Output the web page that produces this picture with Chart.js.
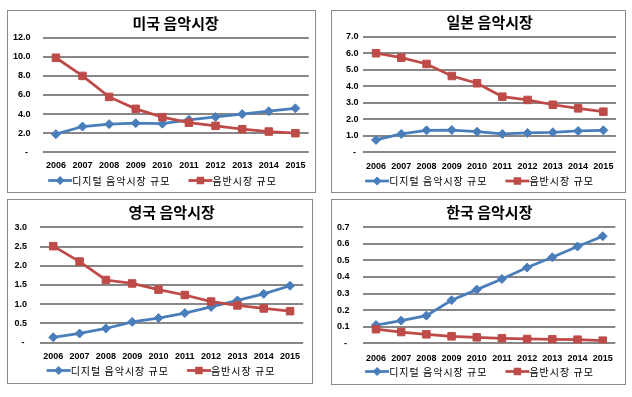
<!DOCTYPE html>
<html>
<head>
<meta charset="utf-8">
<script src="https://cdn.jsdelivr.net/npm/chart.js@4.4.1/dist/chart.umd.min.js"></script>
<style>
  html, body { margin: 0; padding: 0; background: #fff; }
  body { width: 632px; height: 397px; position: relative; overflow: hidden; }
  .caixa { position: absolute; border: 1px solid #8a8a8a; box-sizing: border-box; background: #fff; }
  .caixa canvas { display: block; }
</style>
</head>
<body>
<div class="caixa" style="left:7px;top:10px;width:309px;height:183px"><canvas id="g1" width="307" height="181"></canvas></div>
<div class="caixa" style="left:331px;top:10px;width:295px;height:183px"><canvas id="g2" width="293" height="181"></canvas></div>
<div class="caixa" style="left:7px;top:199px;width:306px;height:185px"><canvas id="g3" width="304" height="183"></canvas></div>
<div class="caixa" style="left:331px;top:199px;width:295px;height:186px"><canvas id="g4" width="293" height="184"></canvas></div>
<script>
var anos = ['2006', '2007', '2008', '2009', '2010', '2011', '2012', '2013', '2014', '2015'];
var series = ['디지털 음악시장 규모', '음반시장 규모'];
var titulos = ['미국 음악시장', '일본 음악시장', '영국 음악시장', '한국 음악시장'];

var usaDigital = [1.9, 2.7, 2.95, 3.05, 3.0, 3.4, 3.7, 4.0, 4.3, 4.6];
var usaAlbum = [9.9, 8.0, 5.8, 4.55, 3.68, 3.1, 2.77, 2.42, 2.17, 2.0];
var japanDigital = [0.75, 1.11, 1.33, 1.35, 1.25, 1.11, 1.17, 1.21, 1.29, 1.33];
var japanAlbum = [6.0, 5.73, 5.35, 4.62, 4.18, 3.37, 3.17, 2.88, 2.66, 2.46];
var ukDigital = [0.14, 0.24, 0.37, 0.54, 0.64, 0.77, 0.93, 1.10, 1.27, 1.48];
var ukAlbum = [2.51, 2.11, 1.63, 1.54, 1.38, 1.24, 1.07, 0.97, 0.89, 0.82];
var koreaDigital = [0.11, 0.137, 0.167, 0.26, 0.324, 0.388, 0.457, 0.519, 0.584, 0.646];
var koreaAlbum = [0.085, 0.068, 0.054, 0.042, 0.036, 0.030, 0.026, 0.024, 0.022, 0.016];

var azul = '#4a7ebb';
var vermelho = '#be4b48';
var fonteNum = 'Liberation Sans';
var fonteKr = 'Noto Sans CJK KR';

// marcador do jeito do excel (losango / quadrado)
function marcador(ctx, estilo, x, y, r) {
  ctx.beginPath();
  if (estilo === 'rectRot') {
    ctx.moveTo(x, y - r);
    ctx.lineTo(x + r, y);
    ctx.lineTo(x, y + r);
    ctx.lineTo(x - r, y);
  } else {
    var s = r * Math.SQRT1_2;
    ctx.rect(x - s, y - s, 2 * s, 2 * s);
  }
  ctx.closePath();
  ctx.fill();
}

// legenda com linha + marcador, centrada na caixa
var legendaExcel = {
  id: 'legendaExcel',
  afterDraw: function (chart, args, opts) {
    var ctx = chart.ctx;
    var sets = chart.data.datasets;
    ctx.save();
    ctx.font = '10px "' + fonteKr + '"';
    ctx.letterSpacing = '1px';
    var larg = sets.map(function (ds) { return 24 + ctx.measureText(ds.label).width; });
    var total = larg.reduce(function (a, b) { return a + b; }, 0) + opts.gap * (sets.length - 1);
    var x = (chart.width - total) / 2 + opts.dx;
    var y = opts.y;
    sets.forEach(function (ds, i) {
      ctx.strokeStyle = ds.borderColor;
      ctx.fillStyle = ds.backgroundColor;
      ctx.lineWidth = ds.borderWidth;
      ctx.beginPath();
      ctx.moveTo(x, y);
      ctx.lineTo(x + 24, y);
      ctx.stroke();
      marcador(ctx, ds.pointStyle, x + 12, y, ds.pointRadius);
      ctx.fillStyle = '#000';
      ctx.textBaseline = 'middle';
      ctx.textAlign = 'left';
      ctx.fillText(ds.label, x + 24, y + 0.5);
      x += larg[i] + opts.gap;
    });
    ctx.restore();
  }
};

function graficoMercado(id, titulo, digital, album, cfg) {
  return new Chart(document.getElementById(id), {
    type: 'line',
    data: {
      labels: anos,
      datasets: [{
        label: series[0],
        data: digital,
        borderColor: azul,
        backgroundColor: azul,
        borderWidth: 2.75,
        pointStyle: 'rectRot',
        pointRadius: 4.5,
        pointBorderWidth: 1,
        tension: 0,
        order: 1
      }, {
        label: series[1],
        data: album,
        borderColor: vermelho,
        backgroundColor: vermelho,
        borderWidth: 2.75,
        pointStyle: 'rect',
        pointRadius: 5.3,
        pointBorderWidth: 1,
        tension: 0,
        order: 0
      }]
    },
    options: {
      responsive: false,
      animation: false,
      layout: {
        padding: { left: 0, right: cfg.right, top: 0, bottom: 0 }
      },
      scales: {
        x: {
          offset: true,
          grid: { display: false },
          border: { display: false },
          ticks: {
            color: '#000',
            font: { family: fonteNum, size: 9, weight: 'bold' },
            padding: Math.max(0, cfg.xlabY - cfg.caBottom - 11.5),
            maxRotation: 0,
            minRotation: 0,
            autoSkip: false
          },
          afterFit: function (s) { s.height = cfg.h - cfg.caBottom; }
        },
        y: {
          min: 0,
          max: cfg.max,
          grid: { color: '#878787', lineWidth: 2, drawTicks: false },
          border: { display: false },
          ticks: {
            stepSize: cfg.step,
            color: '#000',
            font: { family: fonteNum, size: 9, weight: 'bold' },
            padding: cfg.ygap,
            callback: function (v) { return v === 0 ? '- ' : Number(v).toFixed(1); }
          },
          afterFit: function (s) { s.width = cfg.left; }
        }
      },
      plugins: {
        legend: { display: false },
        tooltip: { enabled: false },
        title: {
          display: true,
          text: titulo,
          fullSize: false,
          color: '#000',
          font: { family: fonteKr, size: 15, weight: 'bold' },
          padding: { top: cfg.titleY - 9, bottom: cfg.caTop - cfg.titleY - 9 }
        },
        legendaExcel: { y: cfg.legY, gap: 18, dx: 1 }
      }
    },
    plugins: [legendaExcel]
  });
}

graficoMercado('g1', titulos[0], usaDigital, usaAlbum,
  { h: 181, left: 34.6, right: 5, caTop: 26.7, caBottom: 141.3, titleY: 12.3, xlabY: 153, legY: 169.5, ygap: 12, max: 12, step: 2 });
graficoMercado('g2', titulos[1], japanDigital, japanAlbum,
  { h: 181, left: 31.4, right: 9, caTop: 25.7, caBottom: 141.3, titleY: 11.7, xlabY: 154, legY: 170, ygap: 5, max: 7, step: 1 });
graficoMercado('g3', titulos[2], ukDigital, ukAlbum,
  { h: 183, left: 32.1, right: 8.8, caTop: 27.3, caBottom: 142.7, titleY: 12.3, xlabY: 154.3, legY: 170.5, ygap: 13, max: 3, step: 0.5 });
graficoMercado('g4', titulos[3], koreaDigital, koreaAlbum,
  { h: 184, left: 31.4, right: 9.7, caTop: 27.3, caBottom: 143.3, titleY: 12.3, xlabY: 156.3, legY: 171.5, ygap: 14, max: 0.7, step: 0.1 });
</script>
</body>
</html>
